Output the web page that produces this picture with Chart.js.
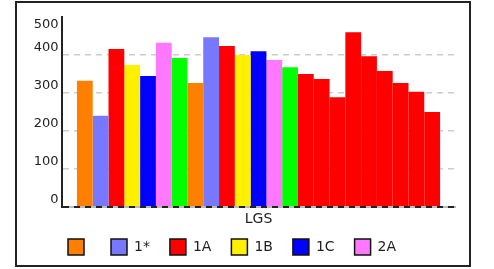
<!DOCTYPE html>
<html>
<head>
<meta charset="utf-8">
<script src="https://cdn.jsdelivr.net/npm/chart.js@4.4.1/dist/chart.umd.min.js"></script>
<style>
  html, body { margin: 0; padding: 0; background: #fff; }
  #frame {
    position: absolute; left: 15px; top: 1px;
    width: 456px; height: 266px;
    box-sizing: border-box; border: 2px solid #222;
  }
  #chart { display: block; }
</style>
</head>
<body>
<div id="frame"><canvas id="chart" width="452" height="262"></canvas></div>
<script>
// one category, every bar is its own series
const categories = ['LGS'];
const seriesNames = ['', '1*', '1A', '1B', '1C', '2A', '2B', '2C', '3A', '3B', '3C', '4A',
  '4B', '4C', '5A', '5B', '5C', '6A', '6B', '6C', '7A', '7B', '7C'];
const seriesValues = [332, 240, 416, 374, 345, 432, 392, 326, 447, 424, 400, 410,
  387, 368, 350, 337, 289, 460, 397, 358, 326, 303, 250];
const seriesColors = ['#ff8000', '#7878ff', '#ff0000', '#fff000', '#0000ff', '#ff78ff', '#00ff00',
  '#ff8000', '#7878ff', '#ff0000', '#fff000', '#0000ff', '#ff78ff', '#00ff00',
  '#ff0000', '#ff0000', '#ff0000', '#ff0000', '#ff0000', '#ff0000', '#ff0000', '#ff0000', '#ff0000'];
const yTickValues = [0, 100, 200, 300, 400, 500];
const legendCount = 6;

Chart.defaults.font.family = 'DejaVu Sans';
Chart.defaults.color = '#222';

const datasets = seriesNames.map((name, i) => ({
  label: name,
  data: [seriesValues[i]],
  backgroundColor: seriesColors[i],
  borderWidth: 0,
  barPercentage: 1,
  categoryPercentage: 0.924
}));

// y labels sit a bit above their grid line, top one is pushed inside the axis
const yLabelPlugin = {
  id: 'yLabels',
  afterDraw(chart) {
    const { ctx, chartArea } = chart;
    const yScale = chart.scales.y;
    ctx.save();
    ctx.font = '13px "DejaVu Sans"';
    ctx.fillStyle = '#222';
    ctx.textAlign = 'right';
    ctx.textBaseline = 'middle';
    yTickValues.forEach((v) => {
      let y = yScale.getPixelForValue(v) - 7.5;
      if (y < chartArea.top + 8) y = chartArea.top + 8;
      ctx.fillText(String(v), chartArea.left - 3.5, y);
    });
    ctx.restore();
  }
};

const chart = new Chart(document.getElementById('chart'), {
  type: 'bar',
  data: { labels: categories, datasets: datasets },
  options: {
    responsive: false,
    animation: false,
    layout: { padding: { left: 31, right: 14, top: 14, bottom: 0 } },
    scales: {
      x: {
        // grid layer first (it computes the border position), then the gray base line,
        // then the dashed zero line of the y grid on top
        grid: { display: false, drawTicks: false, z: -3 },
        border: { display: true, color: '#bbb', width: 2, z: -2 },
        ticks: { font: { size: 14 }, color: '#222', padding: 4 },
        afterFit(scale) {
          scale.height = 12;
          scale._computeLabelArea = () => undefined; // don't clip the label to the thin axis box
        }
      },
      y: {
        min: 0,
        max: 500,
        ticks: { stepSize: 100, display: false },
        grid: {
          drawTicks: false,
          lineWidth: (ctx) => (ctx.tick && ctx.tick.value === 0 ? 2 : 1.5),
          color: (ctx) => {
            if (!ctx.tick) return 'rgba(0,0,0,0)';
            if (ctx.tick.value === 0) return '#222';
            if (ctx.tick.value === 500) return 'rgba(0,0,0,0)';
            return '#ccc';
          }
        },
        // dash here styles the grid lines
        border: { display: true, color: '#222', width: 2, dash: [6, 5] },
        afterFit(scale) { scale.width = 14; }
      }
    },
    plugins: {
      legend: {
        position: 'bottom',
        align: 'start',
        labels: {
          font: { size: 14 },
          color: '#222',
          boxWidth: 16,
          boxHeight: 16,
          padding: 20,
          filter: (item) => item.datasetIndex < legendCount,
          generateLabels(c) {
            const items = Chart.defaults.plugins.legend.labels.generateLabels(c);
            items.forEach((it) => { it.strokeStyle = '#111'; it.lineWidth = 1.5; });
            return items;
          }
        }
      },
      tooltip: { enabled: false }
    }
  },
  plugins: [yLabelPlugin]
});
</script>
</body>
</html>
